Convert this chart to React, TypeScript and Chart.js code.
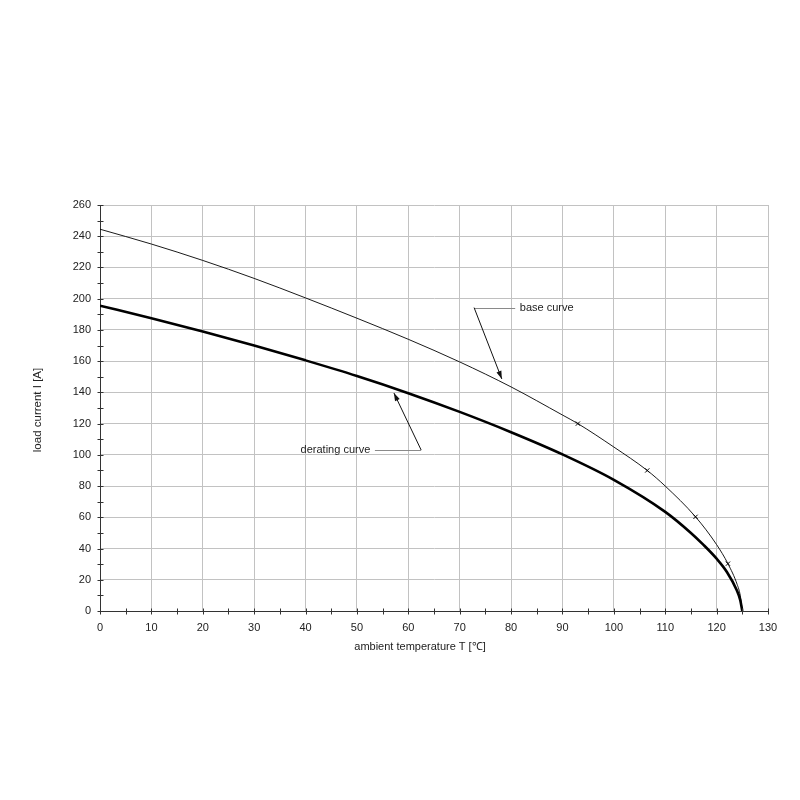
import React, { useEffect, useRef } from "react";
import { Chart, registerables } from "chart.js";

Chart.register(...registerables);

// ---- data ----
const baseT = [0, 10, 20, 30, 40, 50, 60, 70, 80, 90, 93, 100, 106.5, 110, 115.9, 120, 122.2, 124, 124.6, 125];
const baseI = [244.5, 235, 224.5, 213, 200.5, 187.5, 174, 159.5, 143.5, 125.5, 120, 105, 90, 80, 60.3, 42.5, 30.3, 17, 10, 0];

const deratingT = [0, 10, 20, 30, 40, 50, 60, 70, 80, 90, 100, 110, 115, 117.4, 120, 122, 123.9, 124.6, 125];
const deratingI = [195.5, 187.5, 179, 170, 160.5, 150.5, 139.5, 127.5, 114.5, 100.3, 84, 63.5, 50, 42.5, 33.5, 25, 13.5, 7, 0];

const markerT = [93, 106.5, 115.9, 122.2];
const markerI = [120, 90, 60.3, 30.3];

const xMinorTicks = [0, 5, 10, 15, 20, 25, 30, 35, 40, 45, 50, 55, 60, 65, 70, 75, 80, 85, 90, 95, 100, 105, 110, 115, 120, 125, 130];
const yMinorTicks = [0, 10, 20, 30, 40, 50, 60, 70, 80, 90, 100, 110, 120, 130, 140, 150, 160, 170, 180, 190, 200, 210, 220, 230, 240, 250, 260];

const xTitle = "ambient temperature T [℃]";
const yTitle = "load current I [A]";

const baseLabel = "base curve";
const deratingLabel = "derating curve";

// annotation anchor points in data units
const baseLeader = { text: [81.7, 194.3], from: [72.8, 194.3], to: [80.8, 194.3], tip: [78.2, 148.6] };
const deratingLeader = { text: [52.6, 103.1], from: [62.5, 103.1], to: [53.5, 103.1], tip: [57.2, 139.6] };

const FONT = "Liberation Sans, Arial, sans-serif";

function pts(xs: number[], ys: number[]) {
  return xs.map((x, i) => ({ x, y: ys[i] }));
}

const decorPlugin = {
  id: "decor",
  afterDraw(chart: any) {
    const { ctx, scales } = chart;
    const x = scales.x;
    const y = scales.y;
    ctx.save();
    // tick marks crossing the axes
    ctx.strokeStyle = "#333";
    ctx.lineWidth = 1;
    const yb = Math.round(y.getPixelForValue(0)) + 0.5;
    for (const v of xMinorTicks) {
      const px = Math.round(x.getPixelForValue(v)) + 0.5;
      ctx.beginPath();
      ctx.moveTo(px, yb - 3);
      ctx.lineTo(px, yb + 3);
      ctx.stroke();
    }
    const xl = Math.round(x.getPixelForValue(0)) + 0.5;
    for (const v of yMinorTicks) {
      const py = Math.round(y.getPixelForValue(v)) + 0.5;
      ctx.beginPath();
      ctx.moveTo(xl - 3, py);
      ctx.lineTo(xl + 3, py);
      ctx.stroke();
    }

    // annotations
    const drawLeader = (a: any, label: string, align: CanvasTextAlign) => {
      const fx = x.getPixelForValue(a.from[0]);
      const fy = y.getPixelForValue(a.from[1]);
      const tx = x.getPixelForValue(a.to[0]);
      const ty = y.getPixelForValue(a.to[1]);
      const kx = x.getPixelForValue(a.tip[0]);
      const ky = y.getPixelForValue(a.tip[1]);
      ctx.strokeStyle = "#8a8a8a";
      ctx.lineWidth = 1;
      ctx.beginPath();
      ctx.moveTo(fx, Math.round(fy) + 0.5);
      ctx.lineTo(tx, Math.round(ty) + 0.5);
      ctx.stroke();
      ctx.strokeStyle = "#111";
      ctx.beginPath();
      ctx.moveTo(fx, fy);
      ctx.lineTo(kx, ky);
      ctx.stroke();
      const ang = Math.atan2(ky - fy, kx - fx);
      const L = 8;
      const W = 2.6;
      ctx.fillStyle = "#111";
      ctx.beginPath();
      ctx.moveTo(kx, ky);
      ctx.lineTo(kx - L * Math.cos(ang) + W * Math.sin(ang), ky - L * Math.sin(ang) - W * Math.cos(ang));
      ctx.lineTo(kx - L * Math.cos(ang) - W * Math.sin(ang), ky - L * Math.sin(ang) + W * Math.cos(ang));
      ctx.closePath();
      ctx.fill();
      ctx.fillStyle = "#222";
      ctx.font = `11px ${FONT}`;
      ctx.textAlign = align;
      ctx.textBaseline = "middle";
      ctx.fillText(label, x.getPixelForValue(a.text[0]), y.getPixelForValue(a.text[1]));
    };
    drawLeader(baseLeader, baseLabel, "left");
    drawLeader(deratingLeader, deratingLabel, "right");

    // axis titles
    ctx.fillStyle = "#222";
    ctx.font = `11px ${FONT}`;
    ctx.textAlign = "center";
    ctx.textBaseline = "middle";
    ctx.fillText(xTitle, 420, 647);
    ctx.save();
    ctx.translate(38, 410);
    ctx.rotate(-Math.PI / 2);
    ctx.font = `11.5px ${FONT}`;
    ctx.fillText(yTitle, 0, 0);
    ctx.restore();
    ctx.restore();
  },
};

export default function App() {
  const ref = useRef<HTMLCanvasElement | null>(null);
  useEffect(() => {
    if (!ref.current) return;
    const gridColor = (c: any) => (c.tick && c.tick.value === 0 ? "rgba(0,0,0,0)" : "#c2c2c2");
    const chart = new Chart(ref.current, {
      type: "line",
      data: {
        datasets: [
          {
            label: deratingLabel,
            data: pts(deratingT, deratingI),
            borderColor: "#000",
            borderWidth: 2.6,
            pointRadius: 0,
            cubicInterpolationMode: "monotone",
            fill: false,
          },
          {
            label: baseLabel,
            data: pts(baseT, baseI),
            borderColor: "#000",
            borderWidth: 0.9,
            pointRadius: 0,
            cubicInterpolationMode: "monotone",
            fill: false,
          },
          {
            label: "markers",
            data: pts(markerT, markerI),
            showLine: false,
            pointStyle: "crossRot",
            pointRadius: 3,
            pointBorderWidth: 1,
            pointBorderColor: "#000",
            borderColor: "#000",
          },
        ],
      },
      options: {
        responsive: false,
        animation: false,
        events: [],
        layout: { padding: { left: 0, right: 32, top: 205, bottom: 159 } },
        plugins: { legend: { display: false }, tooltip: { enabled: false } },
        scales: {
          x: {
            type: "linear",
            min: 0,
            max: 130,
            ticks: {
              stepSize: 10,
              color: "#222",
              font: { family: FONT, size: 11 },
              padding: 10,
              maxRotation: 0,
            },
            grid: { color: gridColor, lineWidth: 1, drawTicks: false },
            border: { display: true, color: "#333", width: 1 },
            afterFit: (s: any) => {
              s.height = 30;
            },
          },
          y: {
            type: "linear",
            min: 0,
            max: 260,
            ticks: {
              stepSize: 20,
              color: "#222",
              font: { family: FONT, size: 11 },
              padding: 9,
            },
            grid: { color: gridColor, lineWidth: 1, drawTicks: false },
            border: { display: true, color: "#333", width: 1 },
            afterFit: (s: any) => {
              s.width = 100;
            },
          },
        },
      },
      plugins: [decorPlugin],
    } as any);
    return () => chart.destroy();
  }, []);
  return (
    <div style={{ position: "absolute", left: 0, top: 0, width: 800, height: 800, background: "#fff" }}>
      <canvas ref={ref} width={800} height={800} style={{ display: "block" }} />
    </div>
  );
}
